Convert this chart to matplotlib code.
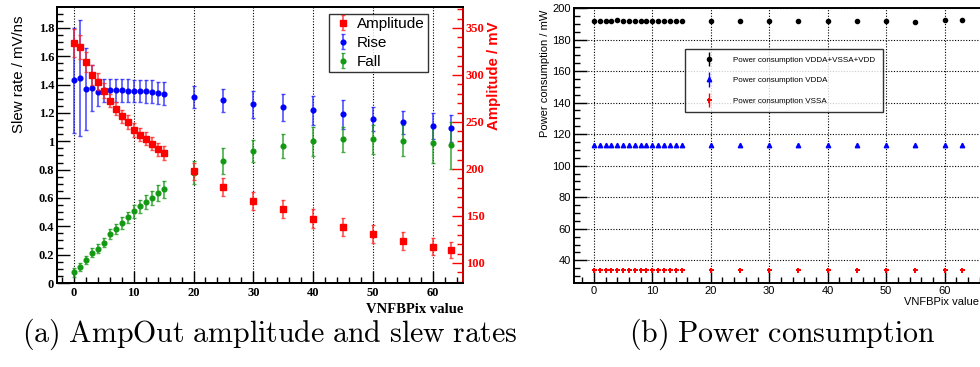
import numpy as np
import matplotlib
matplotlib.use("Agg")
import matplotlib.pyplot as plt
from matplotlib.ticker import MultipleLocator, FuncFormatter
from matplotlib.container import ErrorbarContainer
from matplotlib.legend_handler import HandlerErrorbar

plt.rcParams["mathtext.fontset"] = "cm"

# ---- data -------------------------------------------------------------
vnfbpix = [0, 1, 2, 3, 4, 5, 6, 7, 8, 9, 10, 11, 12, 13, 14, 15,
           20, 25, 30, 35, 40, 45, 50, 55, 60, 63]

amplitude = [334, 330, 314, 300, 293, 283, 272.6, 264, 256, 250, 241.5, 236.4,
             232, 226.9, 221, 217, 197.7, 180.7, 166.3, 157, 147.2, 138.3,
             130.5, 123.8, 117.4, 113.8]
amplitude_err = [15, 13, 10.6, 11, 9, 8, 7, 7, 7, 7, 7, 7, 7, 7, 7, 7,
                 9, 9.5, 9.7, 9.5, 10, 9.5, 9.5, 9.5, 9, 9]

rise = [1.43, 1.447, 1.367, 1.376, 1.345, 1.36, 1.362, 1.36, 1.36, 1.357,
        1.355, 1.355, 1.352, 1.35, 1.341, 1.336, 1.31, 1.289, 1.261, 1.239,
        1.218, 1.19, 1.159, 1.133, 1.107, 1.091]
rise_err = [0.37, 0.41, 0.29, 0.165, 0.097, 0.08, 0.08, 0.08, 0.08, 0.08,
            0.08, 0.08, 0.08, 0.08, 0.08, 0.08, 0.077, 0.08, 0.094, 0.093,
            0.1, 0.1, 0.085, 0.082, 0.09, 0.094]

fall = [0.075, 0.113, 0.163, 0.214, 0.243, 0.285, 0.344, 0.382, 0.424, 0.464,
        0.507, 0.54, 0.573, 0.601, 0.634, 0.66, 0.778, 0.862, 0.931, 0.968,
        0.999, 1.013, 1.013, 1.004, 0.985, 0.973]
fall_err = [0.03, 0.03, 0.03, 0.03, 0.03, 0.03, 0.035, 0.035, 0.04, 0.04,
            0.045, 0.045, 0.05, 0.05, 0.055, 0.06, 0.082, 0.094, 0.08, 0.085,
            0.1, 0.088, 0.1, 0.11, 0.14, 0.165]

power_total = [191.7, 191.7, 191.9, 191.6, 192.1, 191.7, 191.6, 191.6, 191.6,
               191.6, 191.6, 191.6, 191.6, 191.6, 191.6, 191.6, 191.6, 191.6,
               191.6, 191.6, 191.6, 191.6, 191.6, 191.4, 192.1, 192.3]
power_vdda = [113.1] * 26
power_vssa = [34.1] * 26
power_err = [0.0] * 26

# ---- style helpers -----------------------------------------------------
SANS = "Liberation Sans"
SERIF = "Liberation Serif"
RED = "#ff0000"
DARKRED = "#cc0000"
BLUE = "#0000ff"
GREEN = "#129912"
W, H = 980, 367


def fig_rect(x0, y0, x1, y1):
    """Axes rectangle from pixel corners (top-left origin)."""
    return [x0 / W, 1 - y1 / H, (x1 - x0) / W, (y1 - y0) / H]


fig = plt.figure(figsize=(W / 100, H / 100), dpi=100)

# ---- (a) amplitude and slew rates --------------------------------------
ax1 = fig.add_axes(fig_rect(57, 7, 463, 283))
ax1.set_xlim(-2.83, 65.07)
ax1.set_ylim(0, 1.948)
ax2 = ax1.twinx()
ax2.set_ylim(78.7, 372.3)

eb_kw = dict(linestyle="none", elinewidth=1.2, capsize=1.2, capthick=1.0)
h_rise = ax1.errorbar(vnfbpix, rise, yerr=rise_err, marker="o", ms=3.4,
                      color=BLUE, ecolor=(0.15, 0.15, 1.0, 0.8), **eb_kw)
h_fall = ax1.errorbar(vnfbpix, fall, yerr=fall_err, marker="o", ms=3.4,
                      color=GREEN, ecolor=(0.1, 0.6, 0.1, 0.8), **eb_kw)
h_amp = ax2.errorbar(vnfbpix, amplitude, yerr=amplitude_err, marker="s", ms=3.9,
                     color=RED, ecolor=(1.0, 0.15, 0.15, 0.8), **eb_kw)

ax1.grid(axis="x", which="major", color="black", linestyle=(0, (1, 1.5)), lw=0.8)
ax1.set_axisbelow(True)

ax1.xaxis.set_major_locator(MultipleLocator(10))
ax1.xaxis.set_minor_locator(MultipleLocator(2))
ax1.yaxis.set_major_locator(MultipleLocator(0.2))
ax1.yaxis.set_minor_locator(MultipleLocator(0.05))
ax1.yaxis.set_major_formatter(FuncFormatter(lambda v, p: f"{v:g}"))
ax1.tick_params(axis="both", which="major", direction="in", length=9, width=1,
                top=False, right=False, pad=3)
ax1.tick_params(axis="both", which="minor", direction="in", length=4.5, width=1,
                top=False, right=False)
ax1.tick_params(axis="y", pad=2)
for lab in ax1.get_xticklabels() + ax1.get_yticklabels():
    lab.set_fontfamily(SERIF)
    lab.set_fontweight("bold")
    lab.set_fontsize(9)

ax2.yaxis.set_major_locator(MultipleLocator(50))
ax2.yaxis.set_minor_locator(MultipleLocator(10))
ax2.tick_params(axis="y", which="major", direction="in", length=8, width=1,
                colors=RED, pad=2)
ax2.tick_params(axis="y", which="minor", direction="in", length=4.5, width=1,
                colors=RED)
for lab in ax2.get_yticklabels():
    lab.set_fontfamily(SERIF)
    lab.set_fontweight("bold")
    lab.set_fontsize(9)
    lab.set_color(RED)

for sp in ax1.spines.values():
    sp.set_linewidth(1.4)
for sp in ax2.spines.values():
    sp.set_linewidth(1.4)
ax2.spines["right"].set_color(DARKRED)

ax1.set_ylabel("Slew rate / mV/ns", family=SANS, fontsize=10.8, loc="top")
ax1.yaxis.set_label_coords(-0.077, 0.971)
ax2.set_ylabel("Amplitude / mV", family=SANS, fontsize=10.8, fontweight="bold",
               color=RED, loc="top")
ax2.yaxis.set_label_coords(1.060, 0.946)
ax1.set_xlabel("VNFBPix value", family=SERIF, fontsize=10.5, fontweight="bold",
               loc="right")
ax1.xaxis.set_label_coords(1.0, -0.072)

leg1 = ax2.legend([h_amp, h_rise, h_fall], ["Amplitude", "Rise", "Fall"],
                  loc="upper left",
                  bbox_to_anchor=(328.7 / W, 1 - 14 / H),
                  bbox_transform=fig.transFigure,
                  prop={"family": SANS, "size": 11},
                  frameon=True, fancybox=False, borderpad=0.2,
                  handlelength=1.44, handletextpad=0.2, labelspacing=0.33,
                  borderaxespad=0)
leg1.get_frame().set_edgecolor("black")
leg1.get_frame().set_linewidth(1.0)

# ---- (b) power consumption ---------------------------------------------
ax3 = fig.add_axes(fig_rect(574, 8, 982, 283))
ax3.set_xlim(-3.4, 66.4)
ax3.set_ylim(25.6, 200)

pk = dict(linestyle="none", elinewidth=1.0, capsize=0)
h_tot = ax3.errorbar(vnfbpix, power_total, yerr=power_err, marker="o", ms=3.0,
                     color="black", **pk)
h_vdda = ax3.errorbar(vnfbpix, power_vdda, yerr=power_err, marker="^", ms=3.2,
                      color=BLUE, **pk)
h_vssa = ax3.errorbar(vnfbpix, power_vssa, yerr=power_err, marker="P", ms=3.6,
                      color=RED, mew=0, **pk)

ax3.grid(which="major", color="black", linestyle=(0, (1, 1.5)), lw=0.8)
ax3.set_axisbelow(True)
ax3.xaxis.set_major_locator(MultipleLocator(10))
ax3.xaxis.set_minor_locator(MultipleLocator(2))
ax3.yaxis.set_major_locator(MultipleLocator(20))
ax3.yaxis.set_minor_locator(MultipleLocator(5))
ax3.tick_params(axis="both", which="major", direction="in", length=9, width=1,
                top=False, right=False, labelsize=8, pad=2.5)
ax3.tick_params(axis="both", which="minor", direction="in", length=4.5, width=1,
                top=False, right=False)
for lab in ax3.get_xticklabels() + ax3.get_yticklabels():
    lab.set_fontfamily(SANS)
for sp in ax3.spines.values():
    sp.set_linewidth(1.4)

ax3.set_ylabel("Power consumption / mW", family=SANS, fontsize=8, loc="top")
ax3.yaxis.set_label_coords(-0.058, 0.993)
ax3.set_xlabel("VNFBPix value", family=SANS, fontsize=8, loc="right")
ax3.xaxis.set_label_coords((979 - 574) / 408, -0.05)

leg2 = ax3.legend([h_tot, h_vdda, h_vssa],
                  ["Power consumption VDDA+VSSA+VDD",
                   "Power consumption VDDA",
                   "Power consumption VSSA"],
                  loc="upper left",
                  bbox_to_anchor=(685 / W, 1 - 48.7 / H),
                  bbox_transform=fig.transFigure,
                  prop={"family": SANS, "size": 5.8},
                  frameon=True, fancybox=False, borderpad=0.9,
                  handlelength=4.1, handletextpad=1.0, labelspacing=1.62,
                  borderaxespad=0,
                  handler_map={ErrorbarContainer: HandlerErrorbar(xerr_size=0.9)})
leg2.get_frame().set_edgecolor("black")
leg2.get_frame().set_linewidth(1.0)

# ---- captions ------------------------------------------------------------
fig.text(270 / W, 1 - 334 / H, r"$\mathrm{(a)\ AmpOut\ amplitude\ and\ slew\ rates}$",
         ha="center", va="center", fontsize=21.5)
fig.text(782 / W, 1 - 334 / H, r"$\mathrm{(b)\ Power\ consumption}$",
         ha="center", va="center", fontsize=21.5)

fig.savefig("out.png", dpi=100)
